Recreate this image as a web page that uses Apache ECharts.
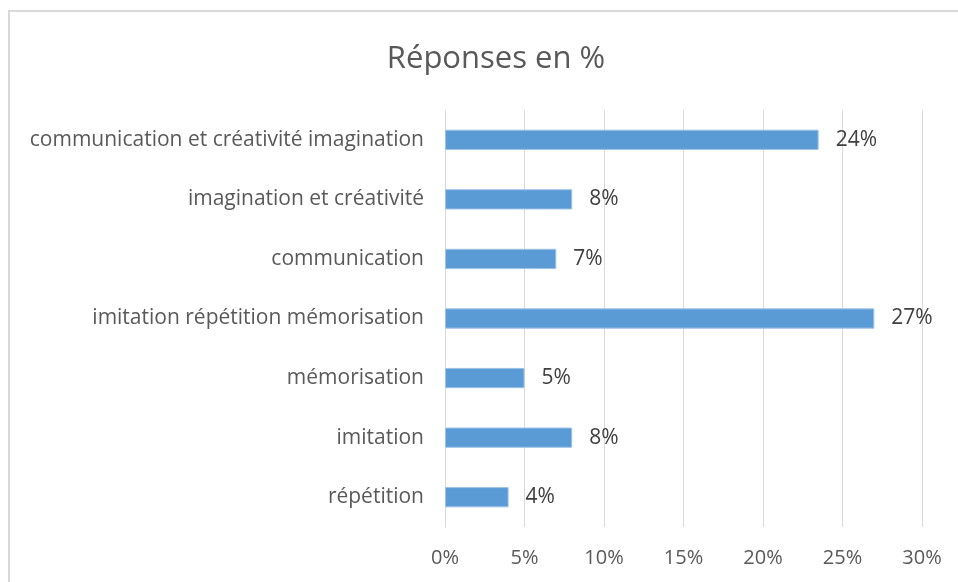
<!DOCTYPE html>
<html>
<head>
<meta charset="utf-8">
<script src="https://cdn.jsdelivr.net/npm/echarts@6/dist/echarts.min.js"></script>
<style>
  html, body { margin: 0; padding: 0; background: #fff; }
  #chart { width: 958px; height: 582px; }
</style>
</head>
<body>
<div id="chart"></div>
<script>
// catégories, de haut en bas
const categories = [
  'communication et créativité imagination',
  'imagination et créativité',
  'communication',
  'imitation répétition mémorisation',
  'mémorisation',
  'imitation',
  'répétition'
]
// valeurs en %
const values = [23.5, 8, 7, 27, 5, 8, 4]
const xTicks = [0, 5, 10, 15, 20, 25, 30]

const chart = echarts.init(document.getElementById('chart'))
const font = '"Open Sans", "Noto Sans", sans-serif'

const option = {
  animation: false,
  textStyle: { fontFamily: font },
  title: {
    text: 'Réponses en %',
    left: 491,
    textAlign: 'center',
    top: 39,
    textStyle: { fontFamily: font, fontSize: 31, fontWeight: 'normal', color: '#595959' }
  },
  graphic: [{
    type: 'rect',
    shape: { x: 9, y: 11, width: 1000, height: 700 },
    style: { fill: 'none', stroke: '#d9d9d9', lineWidth: 2 },
    silent: true
  }],
  grid: { left: 445, right: 36, top: 110, bottom: 55 },
  xAxis: {
    type: 'value',
    min: xTicks[0],
    max: xTicks[xTicks.length - 1],
    interval: 5,
    axisLine: { show: false },
    axisTick: { show: false },
    splitLine: { lineStyle: { color: '#d9d9d9', width: 1 } },
    axisLabel: {
      formatter: '{value}%',
      fontSize: 20,
      color: '#595959',
      margin: 21
    }
  },
  yAxis: {
    type: 'category',
    inverse: true,
    data: categories,
    axisLine: { show: true, lineStyle: { color: '#d9d9d9' } },
    axisTick: { show: false },
    axisLabel: { fontSize: 21, color: '#595959', margin: 21 }
  },
  series: [{
    type: 'bar',
    data: values,
    barCategoryGap: '66%',
    itemStyle: { color: '#5b9bd5', borderColor: '#9dc3e6', borderWidth: 1 },
    label: {
      show: true,
      position: 'right',
      distance: 17,
      fontSize: 21,
      color: '#404040',
      formatter: p => Math.round(p.value) + '%'
    }
  }]
}

chart.setOption(option)
</script>
</body>
</html>
